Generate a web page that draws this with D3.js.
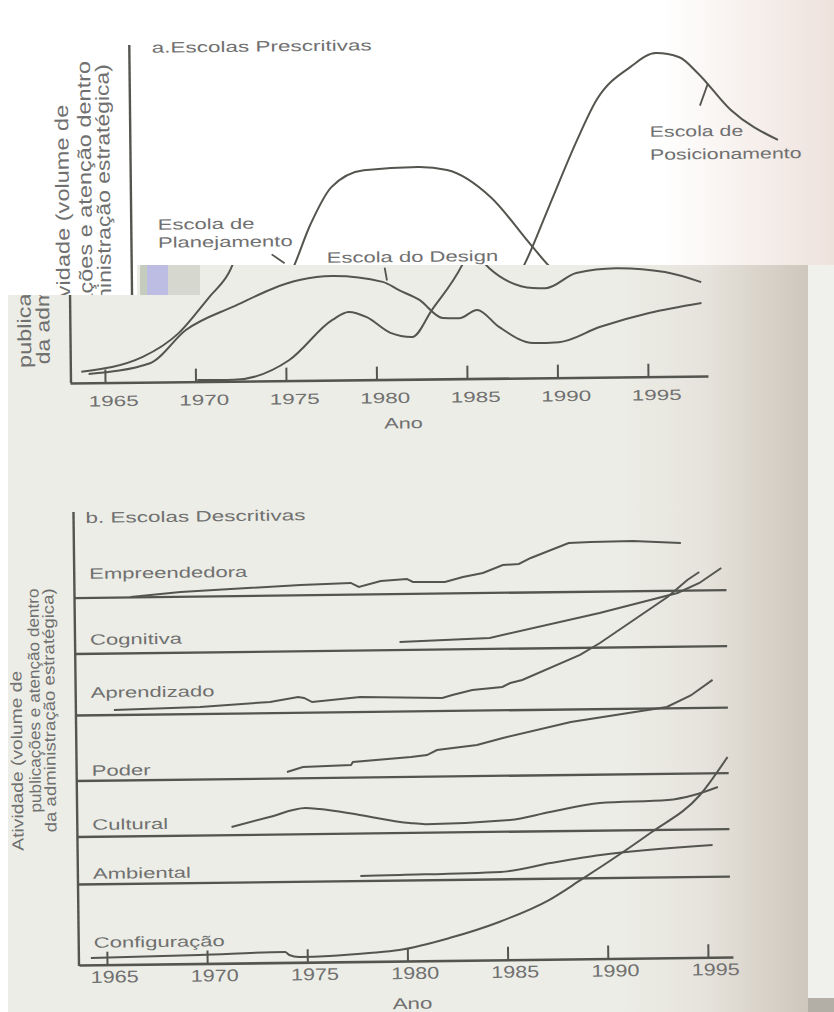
<!DOCTYPE html>
<html>
<head>
<meta charset="utf-8">
<script src="https://cdn.jsdelivr.net/npm/d3@7"></script>
<style>
  body { margin: 0; background: #fff; }
  text { font-family: "Liberation Sans", Arial, sans-serif; }
</style>
</head>
<body>
<svg id="chart" width="834" height="1012"></svg>
<script>
// ---- data: a. Escolas Prescritivas (activity, 0-100) ----
var yearTicks = [1965, 1970, 1975, 1980, 1985, 1990, 1995];

var planYears = [1963.7, 1967.1, 1969.1, 1970.8, 1971.9, 1973.0, 1974.2, 1976.0, 1979.0, 1980.6, 1983.0, 1985.2, 1986.3, 1987.4, 1988.7, 1989.4, 1991.1, 1993.3, 1996.0, 1998.0];
var planVals  = [3.3, 7.5, 14.4, 24.9, 32.0, 46.1, 57.3, 62.2, 63.0, 62.0, 53.8, 39.5, 32.6, 28.5, 26.6, 26.5, 30.9, 32.2, 30.9, 27.8];

var designYears = [1964.1, 1967.5, 1969.5, 1972.1, 1975.8, 1977.6, 1980.4, 1981.3, 1982.4, 1983.7, 1984.6, 1985.6, 1986.8, 1988.7, 1990.1, 1992.4, 1995.1, 1998.0];
var designVals  = [2.6, 5.6, 15.3, 22.0, 29.7, 30.8, 28.9, 26.4, 23.5, 18.0, 17.9, 20.3, 15.2, 10.3, 10.5, 14.9, 18.8, 21.6];

var posYears = [1970.1, 1972.1, 1975.2, 1977.6, 1978.5, 1979.5, 1980.8, 1982.0, 1983.1, 1984.8, 1986.2, 1987.8, 1988.9, 1990.8, 1992.2, 1993.5, 1994.5, 1996.3, 1998.9];
var posVals  = [0.5, 0.4, 6.1, 17.8, 20.1, 18.5, 13.8, 12.5, 20.4, 33.6, 50.7, 70.4, 82.2, 91.9, 95.9, 94.6, 89.9, 78.9, 69.8];

// ---- data: b. Escolas Descritivas (height above each school's line) ----
var schoolNames = ["Empreendedora", "Cognitiva", "Aprendizado", "Poder", "Cultural", "Ambiental", "Configuração"];

var empYears = [1966.4, 1968.9, 1974.9, 1977.4, 1977.8, 1978.9, 1980.2, 1980.5, 1982.1, 1983.0, 1984.0, 1985.0, 1985.8, 1986.4, 1988.3, 1989.4, 1991.5, 1993.9];
var empVals  = [0.4, 4.8, 10.3, 11.7, 7.6, 13.3, 15.0, 11.9, 11.5, 16.3, 20.1, 27.8, 28.6, 34.5, 49.0, 49.8, 50.2, 47.7];

var cogYears = [1979.8, 1984.3, 1989.8, 1993.7, 1994.8, 1995.9];
var cogVals  = [8.1, 11.0, 34.6, 53.7, 63.4, 78.1];

var aprYears = [1965.5, 1969.8, 1973.3, 1974.7, 1975.0, 1975.4, 1977.8, 1981.9, 1982.4, 1983.4, 1984.9, 1985.3, 1985.9, 1988.8, 1989.8, 1991.5, 1993.2, 1994.2, 1994.8];
var aprVals  = [5.1, 7.0, 11.2, 15.8, 14.8, 10.6, 15.1, 13.0, 15.9, 20.7, 23.3, 27.2, 30.1, 54.4, 66.1, 88.7, 111.3, 128.1, 135.9];

var podYears = [1974.1, 1974.9, 1977.3, 1977.4, 1980.3, 1981.1, 1981.6, 1983.6, 1984.9, 1988.3, 1993.1, 1994.3, 1995.4];
var podVals  = [6.5, 11.3, 12.7, 15.6, 19.9, 21.7, 26.6, 31.1, 37.8, 53.0, 66.8, 78.0, 93.3];

var culYears = [1971.3, 1973.2, 1975.0, 1975.7, 1977.7, 1980.2, 1981.0, 1985.2, 1987.2, 1989.7, 1993.1, 1994.4, 1995.6];
var culVals  = [8.1, 17.7, 26.2, 25.0, 18.6, 9.9, 8.6, 11.7, 19.2, 27.6, 29.8, 34.5, 42.2];

var ambYears = [1977.7, 1979.7, 1984.7, 1987.2, 1989.7, 1995.3];
var ambVals  = [5.1, 5.6, 7.4, 15.7, 23.1, 31.8];

var cfgYears = [1964.2, 1969.6, 1973.9, 1974.1, 1974.6, 1976.1, 1978.1, 1979.6, 1982.1, 1984.6, 1987.1, 1988.7, 1989.7, 1992.2, 1994.7, 1996.1];
var cfgVals  = [6.9, 8.5, 10.5, 7.4, 5.3, 5.9, 8.4, 11.1, 22.4, 37.9, 59.2, 78.9, 91.6, 125.0, 162.4, 200.1];

var yLabelLines = ["Atividade (volume de", "publicações e atenção dentro", "da administração estratégica)"];

// ------------------------------------------------------------------
var lineColor = "#54554f", textColor = "#707070";
var svg = d3.select("#chart");
var defs = svg.append("defs");

function zip(xs, ys) { return xs.map(function (x, i) { return [x, ys[i]]; }); }

function stretchText(g, str, x, y, size, sx, anchor) {
  return g.append("text")
    .attr("transform", "translate(" + x + "," + y + ") scale(" + sx + ",1)")
    .attr("font-size", size)
    .attr("text-anchor", anchor || "start")
    .attr("fill", textColor)
    .text(str);
}

// rotated axis title, one entry per line; lines with no x are skipped
function yLabel(g, xs, cys, lens, size) {
  yLabelLines.forEach(function (s, i) {
    if (xs[i] == null) return;
    g.append("text")
      .attr("transform", "translate(" + xs[i] + "," + cys[i] + ") rotate(-90)")
      .attr("text-anchor", "middle")
      .attr("font-size", size)
      .attr("textLength", lens[i])
      .attr("lengthAdjust", "spacingAndGlyphs")
      .attr("fill", textColor)
      .text(s);
  });
}

// page backgrounds
var topShade = defs.append("linearGradient").attr("id", "topShade")
  .attr("gradientUnits", "userSpaceOnUse").attr("x1", 660).attr("x2", 834).attr("y1", 0).attr("y2", 0);
topShade.append("stop").attr("offset", 0).attr("stop-color", "#ffffff");
topShade.append("stop").attr("offset", 1).attr("stop-color", "#eee2dc");

var pageShade = defs.append("linearGradient").attr("id", "pageShade")
  .attr("gradientUnits", "userSpaceOnUse").attr("x1", 620).attr("x2", 808).attr("y1", 0).attr("y2", 0);
pageShade.append("stop").attr("offset", 0).attr("stop-color", "#ecede6");
pageShade.append("stop").attr("offset", 0.45).attr("stop-color", "#e6e3dc");
pageShade.append("stop").attr("offset", 0.8).attr("stop-color", "#d7d1c7");
pageShade.append("stop").attr("offset", 1).attr("stop-color", "#cdc7bd");

svg.append("rect").attr("width", 834).attr("height", 1012).attr("fill", "#ffffff");
svg.append("rect").attr("width", 834).attr("height", 265).attr("fill", "url(#topShade)");

// ---- chart a ----
var xA = d3.scaleLinear().domain([1965, 1995]).range([105, 648]);
var yA = d3.scaleLinear().domain([0, 100]).range([383, 45]);
var lineA = d3.line().x(function (d) { return xA(d[0]); }).y(function (d) { return yA(d[1]); }).curve(d3.curveMonotoneX);
var seriesA = [zip(planYears, planVals), zip(designYears, designVals), zip(posYears, posVals)];

function drawPrescritivas(g, upper) {
  // y axis
  g.append("line").attr("x1", 71).attr("x2", 71).attr("y1", yA(100)).attr("y2", yA(0))
    .attr("stroke", lineColor).attr("stroke-width", 2.4);

  g.selectAll("path.curveA").data(seriesA).enter().append("path")
    .attr("class", "curveA")
    .attr("d", lineA)
    .attr("fill", "none").attr("stroke", lineColor).attr("stroke-width", 2);

  if (upper) {
    yLabel(g, [9, 31.5, 50], [214, 214, 214], [220, 307, 300], 19);
    stretchText(g, "a.Escolas Prescritivas", 93.5, 53, 15, 1.5);
    stretchText(g, "Escola de", 97.5, 230, 15, 1.47);
    stretchText(g, "Planejamento", 97.5, 248, 15, 1.47);
    stretchText(g, "Escola do Design", 266, 265, 15, 1.47);
    stretchText(g, "Escola de", 590.5, 142.5, 15, 1.42);
    stretchText(g, "Posicionamento", 590.5, 165.5, 15, 1.42);
    // leaders
    var leaders = [[[1970.86, 37.6], [1971.57, 34.9]], [[1995.06, 86.7], [1994.61, 80.2]]];
    g.selectAll("path.lead").data(leaders).enter().append("path")
      .attr("d", d3.line().x(function (d) { return xA(d[0]); }).y(function (d) { return yA(d[1]); }))
      .attr("stroke", lineColor).attr("stroke-width", 1.8);
  } else {
    yLabel(g, [null, 31.5, 50], [214, 214, 214], [220, 307, 300], 19);
    var xAxisA = xA.copy().domain([xA.invert(70), xA.invert(708)]).range([70, 708]);
    var ax = g.append("g").attr("transform", "translate(0," + yA(0) + ")")
      .call(d3.axisBottom(xAxisA).tickValues(yearTicks).tickFormat(d3.format("d"))
        .tickSizeInner(-13).tickSizeOuter(0).tickPadding(13));
    ax.select(".domain").attr("stroke", lineColor).attr("stroke-width", 2.6);
    ax.selectAll(".tick line").attr("stroke", lineColor).attr("stroke-width", 2);
    ax.selectAll(".tick text").attr("font-size", 15).attr("fill", textColor)
      .attr("transform", "translate(8,0) scale(1.5,1)");
    stretchText(g, "Ano", 403, 432, 15, 1.45, "middle");
    g.append("path")
      .attr("d", d3.line().x(function (d) { return xA(d[0]); }).y(function (d) { return yA(d[1]); })([[1980.52, 33.1], [1980.64, 29.3]]))
      .attr("stroke", lineColor).attr("stroke-width", 1.8);
  }
}

var upperA = svg.append("g").attr("transform", "translate(62,0) rotate(-0.63,70,383)");
drawPrescritivas(upperA, true);

// grey page pasted over the lower part
svg.append("rect").attr("x", 137).attr("y", 265).attr("width", 671).attr("height", 30).attr("fill", "url(#pageShade)");
svg.append("rect").attr("x", 8).attr("y", 295).attr("width", 800).attr("height", 717).attr("fill", "url(#pageShade)");
svg.append("rect").attr("x", 808).attr("y", 265).attr("width", 26).attr("height", 747).attr("fill", "#f0f0ec");
svg.append("rect").attr("x", 140).attr("y", 265).attr("width", 7).attr("height", 30).attr("fill", "#c6ccbd");
svg.append("rect").attr("x", 147).attr("y", 265).attr("width", 21).attr("height", 30).attr("fill", "#bdbde4");
svg.append("rect").attr("x", 168).attr("y", 265).attr("width", 32).attr("height", 30).attr("fill", "#d6d7ce");
svg.append("rect").attr("x", 808).attr("y", 998).attr("width", 26).attr("height", 14).attr("fill", "#b3aea6");

var clipA = defs.append("clipPath").attr("id", "clipA");
clipA.append("rect").attr("x", 137).attr("y", 265).attr("width", 671).attr("height", 200);
clipA.append("rect").attr("x", 8).attr("y", 295).attr("width", 800).attr("height", 170);

var lowerA = svg.append("g").attr("clip-path", "url(#clipA)")
  .append("g").attr("transform", "rotate(-0.63,70,383)");
drawPrescritivas(lowerA, false);

// ---- chart b ----
var clipB = defs.append("clipPath").attr("id", "clipB");
clipB.append("rect").attr("x", 8).attr("y", 470).attr("width", 800).attr("height", 542);

var gB = svg.append("g").attr("clip-path", "url(#clipB)")
  .append("g").attr("transform", "rotate(-0.7,79,965)");

var xB = d3.scaleLinear().domain([1965, 1995]).range([107, 708]);
var baseB = d3.scaleOrdinal().domain(schoolNames).range([598, 654, 715.5, 781, 837, 884.5, 965]);
var hB = d3.scaleLinear().domain([0, 200]).range([0, 200]);

var seriesB = [
  { name: "Empreendedora", pts: zip(empYears, empVals), curve: d3.curveLinear },
  { name: "Cognitiva", pts: zip(cogYears, cogVals), curve: d3.curveLinear },
  { name: "Aprendizado", pts: zip(aprYears, aprVals), curve: d3.curveLinear },
  { name: "Poder", pts: zip(podYears, podVals), curve: d3.curveLinear },
  { name: "Cultural", pts: zip(culYears, culVals), curve: d3.curveMonotoneX },
  { name: "Ambiental", pts: zip(ambYears, ambVals), curve: d3.curveMonotoneX },
  { name: "Configuração", pts: zip(cfgYears, cfgVals), curve: d3.curveMonotoneX }
];

// y axis + baselines
gB.append("line").attr("x1", 79).attr("x2", 79).attr("y1", 512).attr("y2", 966)
  .attr("stroke", lineColor).attr("stroke-width", 2.4);
gB.selectAll("line.base").data(schoolNames.slice(0, 6)).enter().append("line")
  .attr("class", "base")
  .attr("x1", 79).attr("x2", 731)
  .attr("y1", function (d) { return baseB(d); }).attr("y2", function (d) { return baseB(d); })
  .attr("stroke", lineColor).attr("stroke-width", 2.3);

var xAxisB = xB.copy().domain([xB.invert(79), xB.invert(733)]).range([79, 733]);
var axB = gB.append("g").attr("transform", "translate(0," + baseB("Configuração") + ")")
  .call(d3.axisBottom(xAxisB).tickValues(yearTicks).tickFormat(d3.format("d"))
    .tickSizeInner(-13).tickSizeOuter(0).tickPadding(6));
axB.select(".domain").attr("stroke", lineColor).attr("stroke-width", 2.6);
axB.selectAll(".tick line").attr("stroke", lineColor).attr("stroke-width", 2);
axB.selectAll(".tick text").attr("font-size", 17).attr("fill", textColor)
  .attr("transform", "translate(7,0) scale(1.27,1)");

gB.selectAll("path.school").data(seriesB).enter().append("path")
  .attr("class", "school")
  .attr("d", function (s) {
    return d3.line()
      .x(function (d) { return xB(d[0]); })
      .y(function (d) { return baseB(s.name) - hB(d[1]); })
      .curve(s.curve)(s.pts);
  })
  .attr("fill", "none").attr("stroke", lineColor).attr("stroke-width", 2);

var labelY = { "Empreendedora": 579, "Cognitiva": 645, "Aprendizado": 698, "Poder": 776, "Cultural": 830, "Ambiental": 879, "Configuração": 948 };
schoolNames.forEach(function (n) { stretchText(gB, n, 94, labelY[n], 15, 1.47); });

stretchText(gB, "b. Escolas Descritivas", 91, 523, 15, 1.5);
stretchText(gB, "Ano", 412, 1013, 16, 1.4, "middle");
yLabel(gB, [25, 43, 58], [760, 700, 710], [180, 224, 244], 16);
</script>
</body>
</html>
